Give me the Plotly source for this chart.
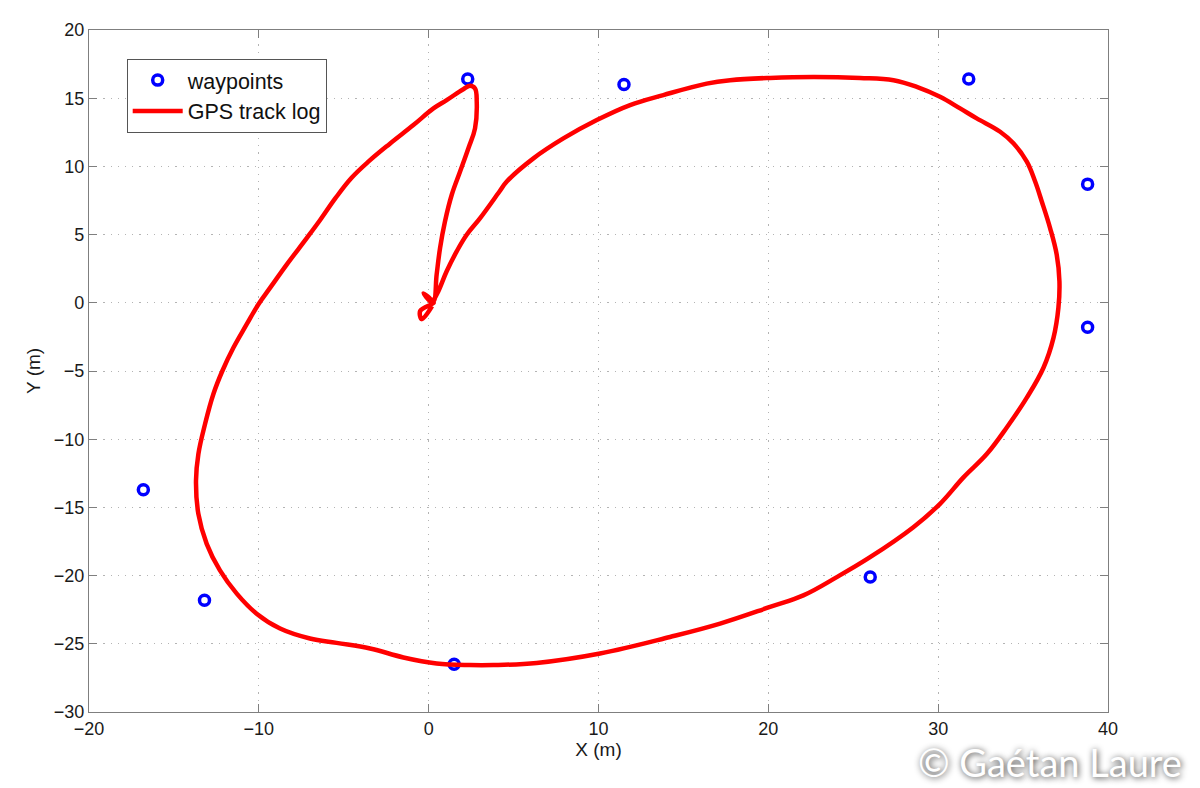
import plotly.graph_objects as go

# Waypoints (m)
wp_x = [2.3, 11.5, 31.8, 38.8, 38.8, 26.0, 1.5, -13.2, -16.8]
wp_y = [16.4, 16.0, 16.4, 8.7, -1.8, -20.1, -26.5, -21.8, -13.7]

# GPS track log (m)
track_x = [0.2, -0.4, -0.5, 0.3, 0.1, -0.3, 0.0, 0.28,
           0.47, 0.67, 0.96, 1.36, 1.85, 2.34, 2.73, 2.83, 2.73, 2.44, 2.04,
           1.06, 0.28, -0.90, -2.30, -3.50, -4.55, -5.50, -6.40, -7.18, -8.36, -9.34, -10.03,
           -10.72, -11.50, -12.15, -12.68, -13.17, -13.56, -13.70, -13.56, -13.07, -12.29,
           -11.30, -10.13, -8.75, -6.99, -5.42, -3.45, -1.49, 0.47, 2.43, 3.81,
           6.36, 10.09, 14.21, 17.16, 20.10, 22.06, 24.03, 25.99, 28.54, 30.11,
           31.49, 32.86, 34.04, 35.22, 36.20, 36.79, 37.08, 37.14, 36.98, 36.59,
           36.10, 35.71, 35.22, 34.43, 33.65, 32.27, 31.29, 30.11, 28.74, 27.37,
           25.40, 22.65, 20.10, 17.75, 16.37, 13.82, 11.86, 9.90, 7.93, 6.17,
           4.60, 4.17, 3.03, 2.24, 1.65, 1.06, 0.57, 0.2]
track_y = [-0.25, -1.2, -0.6, 0.0, 0.1, 0.7, 0.4, 0.12,
           2.07, 4.01, 5.96, 7.92, 9.62, 11.33, 12.79, 14.74, 15.71, 15.91, 15.66,
           14.86, 14.25, 13.03, 11.65, 10.40, 9.15, 7.65, 6.05, 4.74, 2.80, 1.09, -0.12,
           -1.59, -3.30, -5.0, -6.70, -8.90, -11.09, -13.04, -15.48, -17.67, -19.62,
           -21.32, -22.79, -23.88, -24.61, -24.93, -25.34, -26.00, -26.44, -26.56, -26.56,
           -26.40, -25.71, -24.50, -23.52, -22.30, -21.45, -20.11, -18.65, -16.45, -14.74,
           -12.80, -11.09, -9.14, -6.95, -4.76, -2.57, -0.37, 1.58, 3.53, 5.48,
           7.43, 8.89, 10.35, 11.69, 12.54, 13.52, 14.25, 15.10, 15.83, 16.32,
           16.49, 16.56, 16.49, 16.32, 16.07, 15.23, 14.50, 13.40, 12.05, 10.59,
           8.89, 8.16, 6.21, 4.99, 3.77, 2.31, 0.85, 0.0]

x_ticks = [-20, -10, 0, 10, 20, 30, 40]
y_ticks = [-30, -25, -20, -15, -10, -5, 0, 5, 10, 15, 20]

FONT = "Liberation Sans, Arial"

fig = go.Figure()
fig.add_trace(go.Scatter(
    x=wp_x, y=wp_y, mode="markers", name="waypoints",
    marker=dict(symbol="circle-open", size=10, color="#0000ff",
                line=dict(width=3.5, color="#0000ff")),
))
fig.add_trace(go.Scatter(
    x=track_x, y=track_y, mode="lines", name="GPS track log",
    line=dict(color="#ff0000", width=4.5, shape="spline", smoothing=1.1),
))

axis_common = dict(
    showline=True, linecolor="#7f7f7f", linewidth=1.2, mirror="ticks",
    ticks="inside", ticklen=8, tickcolor="#7f7f7f",
    showgrid=True, gridcolor="#b4b4b4", griddash="1.2px,6px", gridwidth=1.3,
    zeroline=False, tickfont=dict(family=FONT, size=18, color="#1a1a1a"),
)
fig.update_xaxes(range=[-20, 40], tickvals=x_ticks,
                 ticktext=[str(v).replace("-", "\u2212") for v in x_ticks],
                 title=dict(text="X (m)", font=dict(family=FONT, size=19, color="#1a1a1a"), standoff=2),
                 **axis_common)
fig.update_yaxes(range=[-30, 20], tickvals=y_ticks,
                 ticktext=[str(v).replace("-", "\u2212") for v in y_ticks],
                 **axis_common)

fig.update_layout(
    width=1192, height=780,
    margin=dict(l=81, r=92, t=20, b=76),
    paper_bgcolor="white", plot_bgcolor="white",
    showlegend=True,
    legend=dict(x=0.037, y=0.958, xanchor="left", yanchor="top",
                bgcolor="white", bordercolor="#555", borderwidth=1,
                font=dict(family=FONT, size=21.5, color="#111"),
                tracegroupgap=0, itemwidth=50),
)
fig.add_annotation(
    text="Y (m)", xref="paper", yref="paper", x=-0.055, y=0.5,
    xanchor="center", yanchor="middle", textangle=-90, showarrow=False,
    font=dict(family=FONT, size=19, color="#1a1a1a"),
)
fig.add_annotation(
    text="\u00a9 Ga\u00e9tan Laure", xref="paper", yref="paper",
    x=1.075, y=-0.074, xanchor="right", yanchor="middle", showarrow=False,
    font=dict(family="Lato, Open Sans", size=38, color="white",
              shadow="1px 1px 6px #333"),
)

fig.write_html("out.html")
